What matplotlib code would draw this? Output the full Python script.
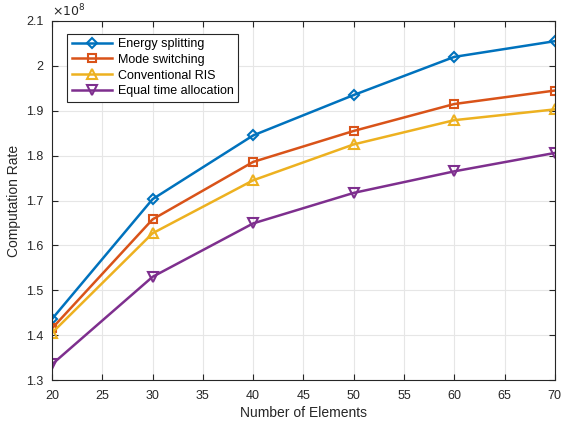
import numpy as np
import matplotlib.pyplot as plt
from matplotlib.ticker import FuncFormatter

plt.rcParams['font.family'] = ['Liberation Sans', 'DejaVu Sans']

elements = [20, 30, 40, 50, 60, 70]
# computation rate, in units of 1e8
energy_split = [1.436, 1.703, 1.845, 1.935, 2.020, 2.055]
mode_switch = [1.415, 1.658, 1.786, 1.855, 1.915, 1.945]
conventional = [1.405, 1.627, 1.745, 1.825, 1.879, 1.903]
equal_time = [1.335, 1.530, 1.649, 1.717, 1.765, 1.806]

series = [
    (energy_split, 'Energy splitting', '#0072BD', 'D', 5),
    (mode_switch, 'Mode switching', '#D95319', 's', 5.5),
    (conventional, 'Conventional RIS', '#EDB120', '^', 6.5),
    (equal_time, 'Equal time allocation', '#7E2F8E', 'v', 6.5),
]

fig = plt.figure(figsize=(5.65, 4.28), dpi=100)
ax = fig.add_axes([0.092, 0.112, 0.890, 0.839])

for vals, name, col, mk, ms in series:
    ax.plot(elements, vals, color=col, lw=1.8, marker=mk, ms=ms,
            mfc='none', mec=col, mew=1.5, label=name)

ax.set_xlim(20, 70)
ax.set_ylim(1.3, 2.1)
ax.set_xticks(np.arange(20, 71, 5))
ax.set_yticks(np.arange(1.3, 2.11, 0.1))
ax.yaxis.set_major_formatter(FuncFormatter(lambda v, p: '%g' % round(v, 2)))

ax.grid(True, color='#e6e6e6', lw=0.8)
ax.set_axisbelow(True)
for s in ax.spines.values():
    s.set_color('#262626')
    s.set_linewidth(0.8)
ax.tick_params(direction='in', top=True, right=True, labelsize=9,
               colors='#262626', length=4)
ax.tick_params(axis='x', pad=7)
ax.tick_params(axis='y', pad=6)

ax.set_xlabel('Number of Elements', fontsize=10, color='#262626', labelpad=3)
ax.set_ylabel('Computation Rate', fontsize=10, color='#262626')
ax.text(0.0, 1.005, r'$\times10^{8}$', transform=ax.transAxes,
        fontsize=9, color='#262626', va='bottom', ha='left')

leg = ax.legend(loc='upper left', bbox_to_anchor=(0.018, 0.982), fontsize=9,
                fancybox=False, framealpha=1, edgecolor='#262626',
                handlelength=3.2, borderpad=0.35, labelspacing=0.3,
                handletextpad=0.5)
leg.get_frame().set_linewidth(0.8)

fig.savefig('out.png', dpi=100)
